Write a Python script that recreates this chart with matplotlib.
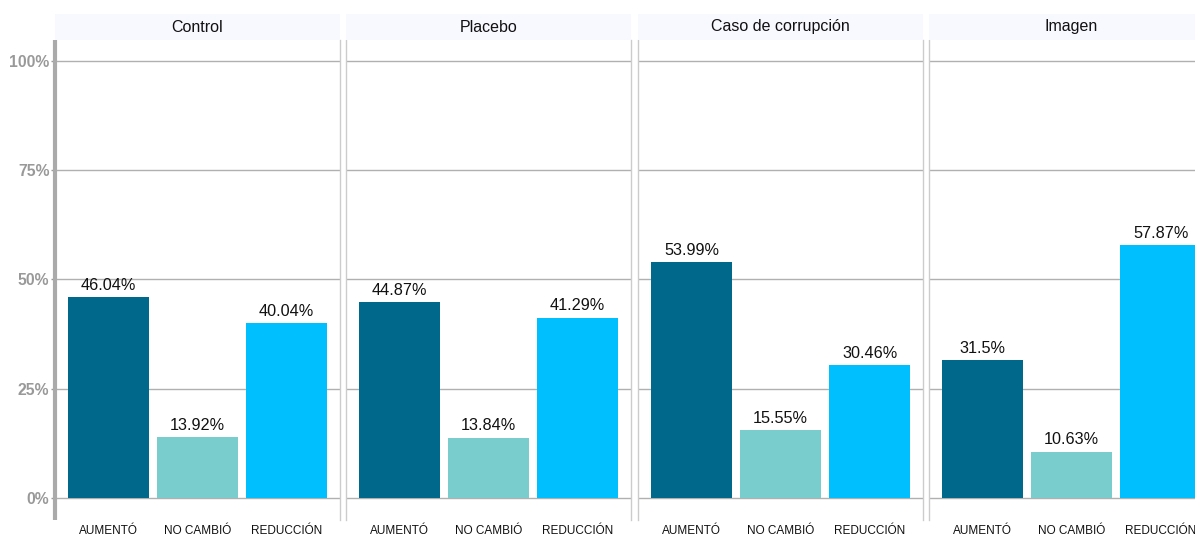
import matplotlib
matplotlib.use("Agg")
from matplotlib import pyplot as plt

plt.rcParams["font.family"] = ["Liberation Sans", "DejaVu Sans"]

panels = ["Control", "Placebo", "Caso de corrupción", "Imagen"]
categories = ["AUMENTÓ", "NO CAMBIÓ", "REDUCCIÓN"]
values = [
    [46.04, 13.92, 40.04],
    [44.87, 13.84, 41.29],
    [53.99, 15.55, 30.46],
    [31.5, 10.63, 57.87],
]
labels = [
    ["46.04%", "13.92%", "40.04%"],
    ["44.87%", "13.84%", "41.29%"],
    ["53.99%", "15.55%", "30.46%"],
    ["31.5%", "10.63%", "57.87%"],
]
colors = ["#00688B", "#79CDCD", "#00BFFF"]
yticks = [0, 25, 50, 75, 100]
ytick_labels = ["0%", "25%", "50%", "75%", "100%"]

W, H = 1195, 536
fig = plt.figure(figsize=(W / 100, H / 100), dpi=100, facecolor="white")

lefts = [55, 346, 638, 929]
pw = 285
top, bottom = 40, 520
strip_top = 14

for i, name in enumerate(panels):
    ax = fig.add_axes([lefts[i] / W, (H - bottom) / H, pw / W, (bottom - top) / H])
    x = range(1, len(categories) + 1)
    ax.bar(x, values[i], width=0.9, color=colors, zorder=3)
    for xi, v, lab in zip(x, values[i], labels[i]):
        ax.annotate(lab, (xi, v), xytext=(0, 3), textcoords="offset points",
                    ha="center", va="bottom", fontsize=11.7, color="#111111")
    ax.set_xlim(0.4, 3.6)
    ax.set_ylim(-5.03, 104.8)
    ax.set_yticks(yticks)
    for yv in yticks:
        ax.axhline(yv, color="#b0b0b0", lw=1, zorder=1)
    ax.set_xticks(list(x))
    ax.set_xticklabels(categories, fontsize=8.5, color="#111111")
    ax.tick_params(axis="x", length=0, pad=3.5)
    for s in ["top", "bottom"]:
        ax.spines[s].set_visible(False)
    ax.spines["right"].set_color("#cccccc")
    ax.spines["right"].set_linewidth(1)
    if i == 0:
        ax.spines["left"].set_color("#aaaaaa")
        ax.spines["left"].set_linewidth(3)
        ax.spines["left"].set_capstyle("butt")
        ax.set_yticklabels(ytick_labels, fontsize=11.3, fontweight="bold", color="#999999")
        ax.tick_params(axis="y", length=3, width=1, color="#999999", pad=1)
    else:
        ax.spines["left"].set_color("#cccccc")
        ax.spines["left"].set_linewidth(1)
        ax.tick_params(axis="y", length=0, labelleft=False)

    sax = fig.add_axes([lefts[i] / W, (H - top) / H, pw / W, (top - strip_top) / H])
    sax.set_facecolor("#F8F8FF")
    sax.set_xticks([])
    sax.set_yticks([])
    for s in sax.spines.values():
        s.set_visible(False)
    sax.text(0.5, 0.5, name, ha="center", va="center", fontsize=11.5, color="#111111",
             transform=sax.transAxes)

fig.savefig("out.png", dpi=100)
